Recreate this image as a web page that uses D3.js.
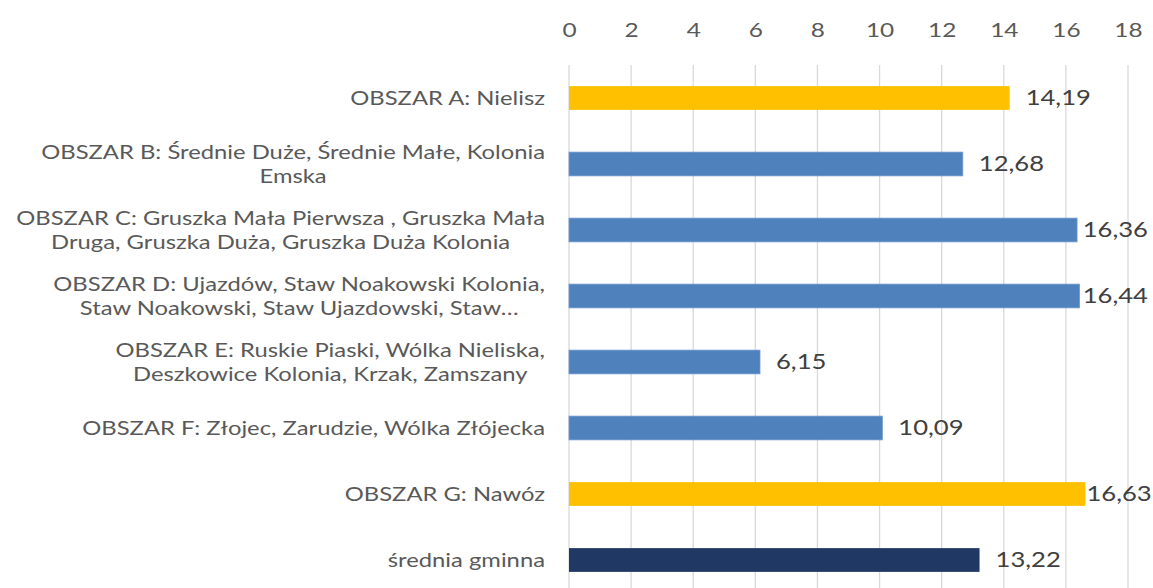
<!DOCTYPE html>
<html>
  <head>
    <meta charset="utf-8">
    <title>Obszary</title>
    <style>
      body,
      html {
        margin: 0;
        padding: 0;
        background: #fff;
      }
      svg {
        display: block;
        font-family: Lato, 'Open Sans', sans-serif;
      }
    </style>
  </head>
  <body>
    <script src="https://cdn.jsdelivr.net/npm/d3@7"></script>
    <script>
      // categories as shown (wrapped lines split with \n)
      const categories = [
        'OBSZAR A: Nielisz',
        'OBSZAR B: Średnie Duże, Średnie Małe, Kolonia\nEmska',
        'OBSZAR C: Gruszka Mała Pierwsza , Gruszka Mała\nDruga, Gruszka Duża, Gruszka Duża Kolonia',
        'OBSZAR D:  Ujazdów, Staw Noakowski Kolonia,\nStaw Noakowski, Staw Ujazdowski, Staw…',
        'OBSZAR E: Ruskie Piaski, Wólka Nieliska,\nDeszkowice Kolonia, Krzak, Zamszany',
        'OBSZAR F: Złojec, Zarudzie, Wólka Złójecka',
        'OBSZAR G: Nawóz',
        'średnia gminna'
      ];
      const values = [14.19, 12.68, 16.36, 16.44, 6.15, 10.09, 16.63, 13.22];
      const kinds = ['hl', 'base', 'base', 'base', 'base', 'base', 'hl', 'avg'];
      const ticks = [0, 2, 4, 6, 8, 10, 12, 14, 16, 18];

      const width = 1153;
      const height = 588;
      const colors = { hl: '#FFC000', base: '#4F81BD', avg: '#1F3864' };
      // text in the original is a bit wide, stretch it
      const SX = 1.22;

      const svg = d3
        .select('body')
        .append('svg')
        .attr('width', width)
        .attr('height', height);

      const x = d3.scaleLinear().domain([0, 18]).range([569, 1128]);
      const y = d3
        .scaleBand()
        .domain(d3.range(categories.length))
        .range([65, 593])
        .paddingInner(0.64)
        .paddingOuter(0.32);

      // gridlines
      svg
        .append('g')
        .selectAll('line')
        .data(ticks)
        .enter()
        .append('line')
        .attr('x1', (d) => x(d))
        .attr('x2', (d) => x(d))
        .attr('y1', 65)
        .attr('y2', height)
        .attr('stroke', '#d9d9d9')
        .attr('stroke-width', 1.3);

      // top axis labels
      const axis = svg
        .append('g')
        .attr('transform', 'translate(0,30)')
        .call(d3.axisTop(x).tickValues(ticks).tickSize(0).tickPadding(0));
      axis.select('.domain').remove();
      axis
        .selectAll('text')
        .attr('dy', '0.35em')
        .attr('transform', `scale(${SX},1)`)
        .attr('fill', '#595959')
        .style('font-size', '20px')
        .style('font-family', 'Lato, sans-serif');

      const rows = svg
        .append('g')
        .selectAll('g')
        .data(values)
        .enter()
        .append('g');

      rows
        .append('rect')
        .attr('x', x(0))
        .attr('y', (d, i) => y(i))
        .attr('width', (d) => x(d) - x(0))
        .attr('height', y.bandwidth())
        .attr('fill', (d, i) => colors[kinds[i]])
        .attr('stroke', (d, i) => (kinds[i] === 'base' ? '#6f9ad0' : 'none'))
        .attr('stroke-width', 0.8);

      // value labels
      rows
        .append('text')
        .attr('dy', '0.35em')
        .attr('fill', '#404040')
        .style('font-size', '21px')
        .text((d) => d.toFixed(2).replace('.', ','))
        .attr('transform', function (d, i) {
          const w = this.getComputedTextLength() * SX;
          const end = x(d);
          const lx = Math.max(end + 1, Math.min(end + 16, 1148 - w));
          const ly = y(i) + y.bandwidth() / 2;
          return `translate(${lx},${ly}) scale(${SX},1)`;
        });

      // category labels
      const labelRight = 545;
      const lineH = 24;
      categories.forEach((c, i) => {
        const lines = c.split('\n');
        const cy = y(i) + y.bandwidth() / 2;
        const t = svg
          .append('text')
          .attr('fill', '#595959')
          .style('font-size', '19.5px');
        lines.forEach((ln, k) => {
          t.append('tspan')
            .attr('x', 0)
            .attr('y', (k - (lines.length - 1) / 2) * lineH)
            .attr('dy', '0.35em')
            .attr('text-anchor', 'middle')
            .text(ln);
        });
        const maxW = d3.max(t.selectAll('tspan').nodes(), (n) => n.getComputedTextLength()) * SX;
        t.attr('transform', `translate(${labelRight - maxW / 2},${cy}) scale(${SX},1)`);
      });
    </script>
  </body>
</html>
